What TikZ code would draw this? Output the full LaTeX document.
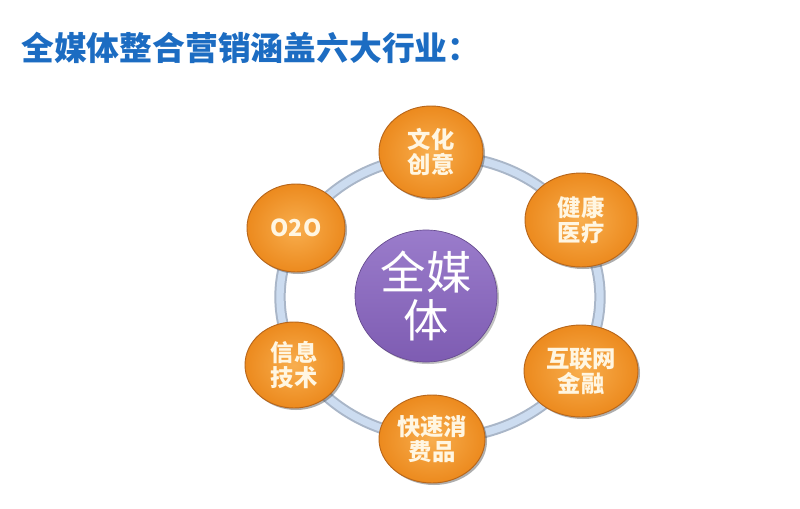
\documentclass[tikz,border=0pt]{standalone}
\usepackage{fontspec}
\newfontfamily\cjk{Noto Sans CJK SC}
\usetikzlibrary{shapes.geometric,shadows}
\definecolor{titleblue}{HTML}{1C6CC2}
\definecolor{orangein}{HTML}{F8AE4E}
\definecolor{orangeout}{HTML}{EC8A1E}
\definecolor{orangerim}{HTML}{B8661A}
\definecolor{purpletop}{HTML}{9A7CCB}
\definecolor{purplebot}{HTML}{7E5CB2}
\definecolor{ringedge}{HTML}{A9B6C8}
\definecolor{ringfill}{HTML}{CCDCF0}
\definecolor{cream}{HTML}{FFF6E2}
\tikzset{
  ball/.style={ellipse, inner sep=0pt, shading=radial, inner color=orangein, outer color=orangeout,
    draw=orangerim, line width=0.7pt, align=center, text=cream,
    font=\cjk\bfseries\fontsize{17.5pt}{19pt}\selectfont,
    drop shadow={shadow xshift=1.5pt, shadow yshift=-1.5pt, opacity=0.45, fill=black!70}},
  hub/.style={ellipse, inner sep=0pt, top color=purpletop, bottom color=purplebot,
    draw=purplebot!80!black, line width=0.5pt, align=center, text=white,
    font=\cjk\fontsize{34pt}{36pt}\selectfont,
    drop shadow={shadow xshift=1.5pt, shadow yshift=-1.5pt, opacity=0.35, fill=black!70}},
  ringouter/.style={ellipse, inner sep=0pt, draw=ringedge, line width=8.5pt},
  ringinner/.style={ellipse, inner sep=0pt, draw=ringfill, line width=5.5pt},
}
\begin{document}
\begin{tikzpicture}[x=0.75pt,y=-0.75pt]
\useasboundingbox[fill=white] (0,0) rectangle (800,508);
\node[anchor=west, text=titleblue, font=\cjk\bfseries\fontsize{24.6pt}{26pt}\selectfont, inner sep=0pt] (title) at (21,48) {全媒体整合营销涵盖六大行业：};
\node[ringouter, minimum width=240pt, minimum height=211.5pt] (ring) at (440,297) {};
\node[ringinner, minimum width=240pt, minimum height=211.5pt] (ringb) at (ring.center) {};
\node[hub, minimum width=106.5pt, minimum height=99pt] (hub) at (426,296) {全媒\\体};
\node[ball, minimum width=78pt, minimum height=69pt] (wenhua) at (431,152) {文化\\创意};
\node[ball, minimum width=84pt, minimum height=70.5pt] (jiankang) at (581,220) {健康\\医疗};
\node[ball, minimum width=85.5pt, minimum height=69pt] (hulian) at (581,371) {互联网\\金融};
\node[ball, minimum width=79.5pt, minimum height=66pt] (kuaisu) at (432,439) {快速消\\费品};
\node[ball, minimum width=73.5pt, minimum height=64.5pt] (xinxi) at (294,365) {信息\\技术};
\node[ball, minimum width=73.5pt, minimum height=66pt] (oto) at (296,228) {O2O};
\end{tikzpicture}
\end{document}
